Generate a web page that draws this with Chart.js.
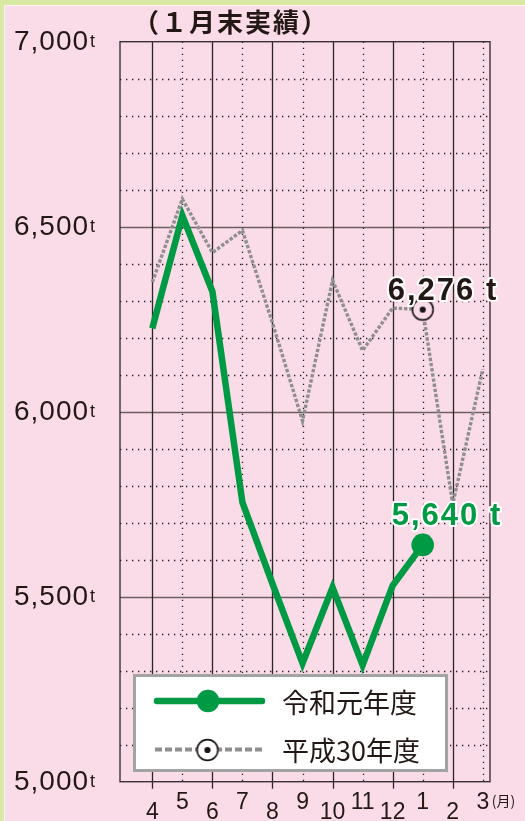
<!DOCTYPE html>
<html>
<head>
<meta charset="utf-8">
<script src="https://cdn.jsdelivr.net/npm/chart.js@4.4.1/dist/chart.umd.min.js"></script>
<style>
  html, body { margin: 0; padding: 0; background: #fadbe8; }
  canvas { display: block; }
</style>
</head>
<body>
<canvas id="c" width="525" height="821"></canvas>
<script>
// ---------- data ----------
const categories = ['4', '5', '6', '7', '8', '9', '10', '11', '12', '1', '2', '3'];
const reiwa1   = [6225, 6530, 6325, 5755, 5535, 5320, 5525, 5315, 5530, 5640, null, null];
const heisei30 = [6350, 6575, 6430, 6490, 6240, 5975, 6355, 6165, 6280, 6276, 5750, 6115];
const seriesNames = ['令和元年度', '平成30年度'];
const yTickValues = [5000, 5500, 6000, 6500, 7000];
const titleText = '（１月末実績）';
const monthUnit = '(月)';
const unitText = 't';
const highlightIndex = 9;

// ---------- styles ----------
const PINK = '#fadbe8';
const GREEN_FRAME = '#d9e8a2';
const GREEN = '#009a44';
const GRAY = '#8f8f8f';
const INK = '#231815';
const LATIN = '"Liberation Sans", Arial, sans-serif';
const CJK = '"Noto Sans CJK JP", "Noto Sans", sans-serif';

function fmt(v) { return v.toLocaleString('en-US'); }

function makeGrayMarker(fill) {
  const c = document.createElement('canvas');
  c.width = 26; c.height = 26;
  const g = c.getContext('2d');
  g.beginPath(); g.arc(13, 13, 10.4, 0, Math.PI * 2);
  g.fillStyle = fill; g.fill();
  g.lineWidth = 1.6; g.strokeStyle = '#1a1414'; g.stroke();
  g.beginPath(); g.arc(13, 13, 3.1, 0, Math.PI * 2);
  g.fillStyle = '#1a1414'; g.fill();
  return c;
}
const grayMarker = makeGrayMarker(PINK);
const grayMarkerLegend = makeGrayMarker('#ffffff');

const bgPlugin = {
  id: 'bg',
  beforeDraw(chart) {
    const ctx = chart.ctx;
    ctx.save();
    ctx.fillStyle = GREEN_FRAME; ctx.fillRect(0, 0, chart.width, chart.height);
    ctx.fillStyle = '#fbf3f6'; ctx.fillRect(4, 5, chart.width, chart.height);
    ctx.fillStyle = PINK; ctx.fillRect(5, 6, chart.width, chart.height);
    ctx.restore();
  }
};

const gridPlugin = {
  id: 'grid',
  beforeDatasetsDraw(chart) {
    const { ctx, chartArea: a, scales: { x, y } } = chart;
    ctx.save();
    for (let v = y.min + 100; v < y.max; v += 100) {
      const py = Math.round(y.getPixelForValue(v)) + 0.5;
      ctx.beginPath();
      if (v % 500 === 0) {
        ctx.setLineDash([]); ctx.lineWidth = 1.5; ctx.strokeStyle = '#6b5f60';
      } else {
        ctx.setLineDash([1.3, 4.7]); ctx.lineWidth = 1.3; ctx.strokeStyle = '#231c1c';
      }
      ctx.moveTo(a.left, py); ctx.lineTo(a.right, py); ctx.stroke();
    }
    categories.forEach((c, i) => {
      const px = Math.round(x.getPixelForValue(i)) + 0.5;
      ctx.beginPath();
      if (i % 2 === 0) {
        ctx.setLineDash([]); ctx.lineWidth = 1.3; ctx.strokeStyle = '#2d2626';
      } else {
        ctx.setLineDash([1.3, 4.7]); ctx.lineWidth = 1.3; ctx.strokeStyle = '#231c1c';
      }
      ctx.moveTo(px, a.top); ctx.lineTo(px, a.bottom); ctx.stroke();
      if (i % 2 === 0) {
        ctx.beginPath(); ctx.moveTo(px, a.bottom); ctx.lineTo(px, a.bottom + 7); ctx.stroke();
      }
    });
    ctx.setLineDash([]); ctx.lineWidth = 1.4; ctx.strokeStyle = '#3b3333';
    ctx.strokeRect(a.left, a.top, a.right - a.left, a.bottom - a.top);
    ctx.restore();
  }
};

const textPlugin = {
  id: 'texts',
  afterDatasetsDraw(chart) {
    const { ctx, scales: { x, y } } = chart;
    ctx.save();
    // title
    ctx.fillStyle = INK;
    ctx.font = 'bold 26px ' + CJK;
    ctx.letterSpacing = '2px';
    ctx.textAlign = 'left'; ctx.textBaseline = 'alphabetic';
    ctx.fillText(titleText, 133, 32);
    // y labels
    yTickValues.forEach(v => {
      const py = y.getPixelForValue(v);
      ctx.font = '28px ' + LATIN;
      ctx.letterSpacing = '1px';
      const s = fmt(v);
      ctx.fillText(s, 14, py + 8);
      const w = ctx.measureText(s).width;
      ctx.font = '18px ' + LATIN;
      ctx.letterSpacing = '0px';
      ctx.fillText(unitText, 14 + w + 1, py + 5);
    });
    // x labels
    ctx.font = '23px ' + LATIN;
    ctx.letterSpacing = '0px';
    ctx.textAlign = 'center';
    categories.forEach((c, i) => {
      const px = x.getPixelForValue(i);
      ctx.fillText(c, px, i % 2 === 0 ? 819 : 809);
    });
    ctx.textAlign = 'left';
    ctx.font = '14px ' + CJK;
    ctx.fillText(monthUnit, x.getPixelForValue(categories.length - 1) + 9, 806);

    // value annotations
    const drawAnno = (txt, lx, by, color) => {
      ctx.font = 'bold 31px ' + LATIN;
      ctx.letterSpacing = '2px';
      ctx.lineJoin = 'round';
      ctx.lineWidth = 4; ctx.strokeStyle = '#ffffff';
      ctx.strokeText(txt, lx, by);
      ctx.fillStyle = color;
      ctx.fillText(txt, lx, by);
    };
    const gp = chart.getDatasetMeta(0).data[highlightIndex];
    drawAnno(fmt(heisei30[highlightIndex]) + ' ' + unitText, gp.x - 35, gp.y - 10, INK);
    const rp = chart.getDatasetMeta(1).data[highlightIndex];
    drawAnno(fmt(reiwa1[highlightIndex]) + ' ' + unitText, rp.x - 31, rp.y - 19.5, GREEN);
    ctx.restore();
  },
  afterDraw(chart) {
    const ctx = chart.ctx;
    ctx.save();
    ctx.fillStyle = '#ffffff';
    ctx.fillRect(134.5, 675.5, 312, 95);
    ctx.lineWidth = 3; ctx.strokeStyle = '#a3a3a3';
    ctx.strokeRect(134.5, 675.5, 312, 95);
    ctx.beginPath();
    ctx.lineWidth = 6.5; ctx.strokeStyle = GREEN; ctx.lineCap = 'round';
    ctx.moveTo(157, 701); ctx.lineTo(262, 701); ctx.stroke();
    ctx.beginPath(); ctx.arc(208, 701, 11.3, 0, Math.PI * 2);
    ctx.fillStyle = GREEN; ctx.fill();
    ctx.beginPath();
    ctx.lineWidth = 4; ctx.strokeStyle = GRAY; ctx.lineCap = 'butt';
    ctx.setLineDash([7, 3]);
    ctx.moveTo(155, 749.5); ctx.lineTo(265, 749.5); ctx.stroke();
    ctx.setLineDash([]);
    ctx.drawImage(grayMarkerLegend, 207.5 - 13, 750 - 13);
    ctx.fillStyle = INK;
    ctx.font = '27px ' + CJK;
    ctx.textAlign = 'left'; ctx.textBaseline = 'alphabetic';
    ctx.fillText(seriesNames[0], 282, 713);
    ctx.fillText(seriesNames[1], 282, 761);
    ctx.restore();
  }
};

const toXY = arr => arr.map((v, i) => (v === null ? null : { x: i, y: v })).filter(p => p !== null);

new Chart(document.getElementById('c'), {
  type: 'line',
  data: {
    datasets: [
      {
        label: seriesNames[1],
        data: toXY(heisei30),
        borderColor: GRAY,
        borderWidth: 3.4,
        borderDash: [3.4, 1.8],
        borderJoinStyle: 'miter',
        borderCapStyle: 'butt',
        tension: 0,
        pointRadius: c => (c.dataIndex === highlightIndex ? 11 : 0),
        pointStyle: grayMarker,
        pointHoverRadius: 0,
        order: 2,
        clip: false
      },
      {
        label: seriesNames[0],
        data: toXY(reiwa1),
        borderColor: GREEN,
        borderWidth: 6.5,
        borderJoinStyle: 'miter',
        borderCapStyle: 'butt',
        tension: 0,
        pointRadius: c => (c.dataIndex === highlightIndex ? 11.3 : 0),
        pointBackgroundColor: GREEN,
        pointBorderWidth: 0,
        pointHoverRadius: 0,
        order: 1,
        clip: false
      }
    ]
  },
  options: {
    responsive: false,
    animation: false,
    devicePixelRatio: 1,
    events: [],
    layout: { padding: { left: 120, top: 41.7, right: 35, bottom: 39.3 } },
    scales: {
      x: { type: 'linear', min: -1.075, max: 11.24, display: false },
      y: { type: 'linear', min: 5000, max: 7000, display: false }
    },
    plugins: { legend: { display: false }, tooltip: { enabled: false } }
  },
  plugins: [bgPlugin, gridPlugin, textPlugin]
});
</script>
</body>
</html>
